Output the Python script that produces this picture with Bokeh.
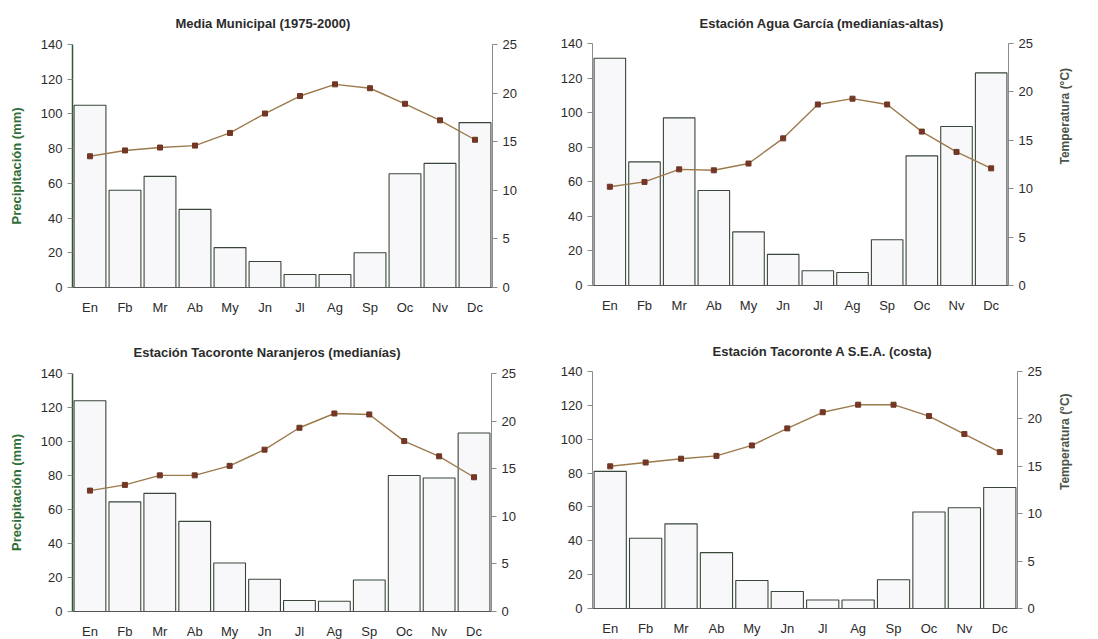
import math
from bokeh.plotting import figure
from bokeh.models import (Range1d, FactorRange, LinearAxis, FixedTicker, Title)
from bokeh.layouts import row, column
from bokeh.embed import file_html
from bokeh.resources import INLINE

months = ["En", "Fb", "Mr", "Ab", "My", "Jn", "Jl", "Ag", "Sp", "Oc", "Nv", "Dc"]

title_municipal = "Media Municipal  (1975-2000)"
precip_municipal = [105, 56, 64, 45, 23, 15, 7.5, 7.5, 20, 65.5, 71.5, 95]
temp_municipal = [13.5, 14.1, 14.4, 14.6, 15.9, 17.9, 19.7, 20.9, 20.5, 18.9, 17.2, 15.2]

title_agua = "Estación  Agua García (medianías-altas)"
precip_agua = [131.5, 71.5, 97, 55, 31, 18, 8.5, 7.5, 26.5, 75, 92, 123]
temp_agua = [10.2, 10.7, 12.0, 11.9, 12.6, 15.2, 18.7, 19.3, 18.7, 15.9, 13.8, 12.1]

title_naranjeros = "Estación Tacoronte Naranjeros (medianías)"
precip_naranjeros = [124, 64.5, 69.5, 53, 28.5, 19, 6.5, 6, 18.5, 80, 78.5, 105]
temp_naranjeros = [12.7, 13.3, 14.3, 14.3, 15.3, 17.0, 19.3, 20.8, 20.7, 17.9, 16.3, 14.1]

title_costa = "Estación Tacoronte A S.E.A. (costa)"
precip_costa = [81, 41.5, 50, 33, 16.5, 10, 5, 5, 17, 57, 59.5, 71.5]
temp_costa = [15.0, 15.4, 15.8, 16.1, 17.2, 19.0, 20.7, 21.5, 21.5, 20.3, 18.4, 16.5]

precip_ticks = [0, 20, 40, 60, 80, 100, 120, 140]
temp_ticks = [0, 5, 10, 15, 20, 25]

FONT = "Liberation Sans"
AXIS_GRAY = "#8a8a8a"
TEXT = "#2b2b2b"


def panel(title, precip, temp, fw, fh, bl, br, bt, bb, title_off, title_standoff,
          left_label, right_label, left_axis_color, right_standoff=27):
    p = figure(x_range=FactorRange(*months, range_padding=0), y_range=Range1d(0, 140),
               frame_width=fw, frame_height=fh,
               min_border_left=bl, min_border_right=br, min_border_top=bt, min_border_bottom=bb,
               output_backend="svg", toolbar_location=None, background_fill_color="white",
               border_fill_color="white")
    p.outline_line_color = None
    p.xgrid.visible = False
    p.ygrid.visible = False
    p.extra_y_ranges = {"temp": Range1d(0, 25)}

    p.vbar(x=months, top=precip, bottom=0, width=0.91, fill_color="#f8f8fb",
           line_color="#3a463a", line_width=1.1)
    p.line(x=months, y=temp, y_range_name="temp", line_color="#9c7a4c", line_width=1.4)
    p.scatter(x=months, y=temp, y_range_name="temp", marker="square", size=5,
              fill_color="#7a3328", line_color="#6a3a22")

    t = Title(text=title, align="left", offset=title_off, text_font=FONT,
              text_font_size="13px", text_font_style="bold", text_color=TEXT,
              standoff=title_standoff)
    p.add_layout(t, "above")

    ya = p.yaxis[0]
    ya.ticker = FixedTicker(ticks=precip_ticks)
    ya.axis_line_color = left_axis_color
    ya.axis_line_width = 1.5 if left_axis_color != AXIS_GRAY else 1
    ya.major_tick_line_color = AXIS_GRAY
    ya.major_tick_in = 0
    ya.major_tick_out = 5
    ya.minor_tick_line_color = None
    ya.major_label_text_font = FONT
    ya.major_label_text_font_size = "13px"
    ya.major_label_text_color = TEXT
    ya.major_label_standoff = 5
    if left_label:
        ya.axis_label = left_label
        ya.axis_label_text_font = FONT
        ya.axis_label_text_font_size = "13px"
        ya.axis_label_text_font_style = "bold"
        ya.axis_label_text_color = "#2e6e36"
        ya.axis_label_standoff = 14

    ra = LinearAxis(y_range_name="temp", ticker=FixedTicker(ticks=temp_ticks))
    ra.axis_line_color = AXIS_GRAY
    ra.major_tick_line_color = AXIS_GRAY
    ra.major_tick_in = 0
    ra.major_tick_out = 5
    ra.minor_tick_line_color = None
    ra.major_label_text_font = FONT
    ra.major_label_text_font_size = "13px"
    ra.major_label_text_color = TEXT
    ra.major_label_standoff = 5
    if right_label:
        ra.axis_label = right_label
        ra.axis_label_text_font = FONT
        ra.axis_label_text_font_size = "12px"
        ra.axis_label_text_font_style = "bold"
        ra.axis_label_text_color = "#4a544a"
        ra.axis_label_standoff = right_standoff
        ra.axis_label_orientation = math.pi / 2
    p.add_layout(ra, "right")

    xa = p.xaxis[0]
    xa.axis_line_color = "#555555"
    xa.major_tick_line_color = None
    xa.minor_tick_line_color = None
    xa.major_label_text_font = FONT
    xa.major_label_text_font_size = "13px"
    xa.major_label_text_color = TEXT
    xa.major_label_standoff = 6
    return p


p1 = panel(title_municipal, precip_municipal, temp_municipal, 420, 243, 68, 53, 44, 41, 103, 27,
           "Precipitación (mm)", None, "#2f5a2f")
p2 = panel(title_agua, precip_agua, temp_agua, 416, 242, 49, 75, 43, 43, 107, 26,
           None, "Temperatura (°C)", AXIS_GRAY, 29)
p3 = panel(title_naranjeros, precip_naranjeros, temp_naranjeros, 419, 238, 72, 50, 45, 26, 61, 28,
           "Precipitación (mm)", None, "#2f5a2f")
p4 = panel(title_costa, precip_costa, temp_costa, 425, 237, 51, 64, 43, 29, 120, 26,
           None, "Temperatura (°C)", AXIS_GRAY, 20)

layout = row(column(p1, p3), column(p2, p4))

open("out.html", "w").write(file_html(layout, INLINE))
